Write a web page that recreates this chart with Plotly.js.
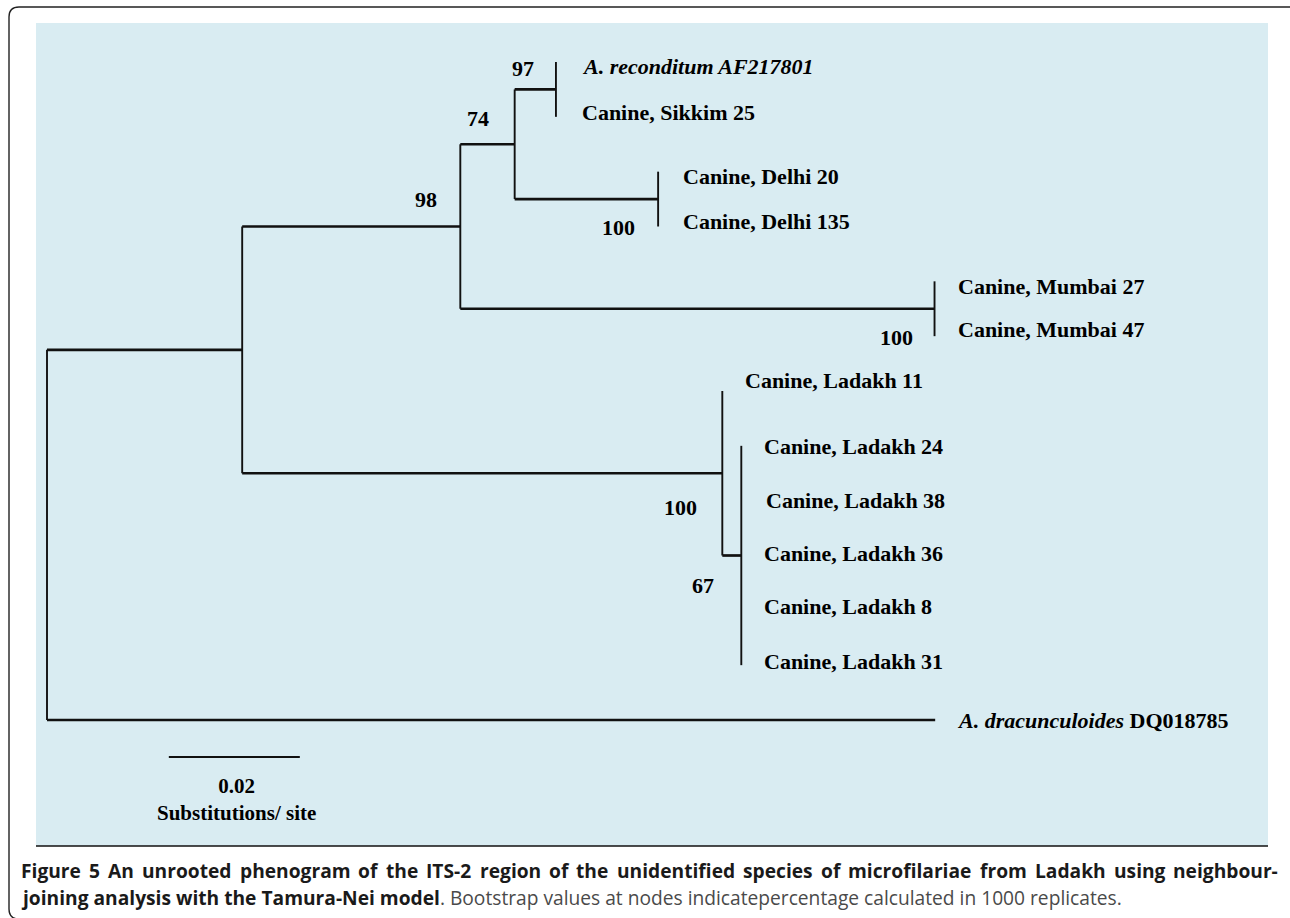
<!DOCTYPE html>
<html>
<head>
<meta charset="utf-8">
<script src="https://cdn.plot.ly/plotly-3.0.1.min.js"></script>
<style>
html,body{margin:0;padding:0;background:#ffffff;}
#chart{width:1290px;height:918px;}
</style>
</head>
<body>
<div id="chart"></div>
<script>
// ---------------- DATA ----------------
// Tree topology: node ids, parents and branch lengths (substitutions/site)
const nodeIds = ['root','N1','N98','N74','N97','Arec','Sik25','NDel','Del20','Del135',
                 'NMum','Mum27','Mum47','NLad','Lad11','N67','Lad24','Lad38','Lad36','Lad8','Lad31','Adra'];
const nodeParents = [null,'root','N1','N98','N74','N97','N97','N74','NDel','NDel',
                     'N98','NMum','NMum','N1','NLad','NLad','N67','N67','N67','N67','N67','root'];
const branchLengths = [0, 0.0298, 0.0333, 0.0083, 0.0063, 0, 0, 0.0219, 0, 0,
                       0.0724, 0, 0, 0.0733, 0, 0.0029, 0, 0, 0, 0, 0, 0.1356];
const bootstrapValues = [null, null, 98, 74, 97, null, null, 100, null, null,
                         100, null, null, 100, null, 67, null, null, null, null, null, null];
// Leaves in drawing order (top to bottom)
const leafIds = ['Arec','Sik25','Del20','Del135','Mum27','Mum47','Lad11','Lad24','Lad38','Lad36','Lad8','Lad31','Adra'];
const leafLabels = ['<i>A. reconditum AF217801</i>','Canine, Sikkim 25','Canine, Delhi 20','Canine, Delhi 135',
                    'Canine, Mumbai 27','Canine, Mumbai 47','Canine, Ladakh 11','Canine, Ladakh 24',
                    'Canine, Ladakh 38','Canine, Ladakh 36','Canine, Ladakh 8','Canine, Ladakh 31',
                    '<i>A. dracunculoides</i> DQ018785'];
const scaleBarLength = 0.02;
const scaleBarValueLabel = '0.02';
const scaleBarUnitLabel = 'Substitutions/ site';
const captionLine1 = 'Figure 5 An unrooted phenogram of the ITS-2 region of the unidentified species of microfilariae from Ladakh using neighbour-';
const captionLine2Bold = 'joining analysis with the Tamura-Nei model';
const captionLine2Rest = '. Bootstrap values at nodes indicatepercentage calculated in 1000 replicates.';

// ---------------- STYLE / LAYOUT CONSTANTS ----------------
const W = 1290, H = 918;
const PX_PER_UNIT = 6550;     // horizontal scale: pixels per substitution/site
const ROOT_PX = 47;           // pixel position of the root
const ROW0_PX = 62, ROW_PX = 54.833; // vertical leaf spacing
const SCALEBAR_START = 0.0186, SCALEBAR_ROW = 12.675;
const TREE_FONT = 'Liberation Serif, Times New Roman, serif';
const CAP_FONT = 'Open Sans, Noto Sans, sans-serif';
// per-leaf label offsets (px)  [dx, dy(up)]
const leafLabelShift = {Arec:[24,-4],Sik25:[24,4],Del20:[23,-5],Del135:[23,5],Mum27:[21,-5],Mum47:[21,7],
  Lad11:[21,11],Lad24:[21,-1],Lad38:[23,0],Lad36:[21,2],Lad8:[21,4],Lad31:[21,4],Adra:[20,0]};
// bootstrap label offsets (px) relative to node  [dx, dy(up)] with right anchor
const bootShift = {N98:[-21,27],N74:[-24,26],N97:[-20,21],NDel:[-21,-28],NMum:[-20,-29],NLad:[-23,-34],N67:[-25,-30]};

// ---------------- TREE LAYOUT ----------------
const n = nodeIds.length;
const idx = {}; nodeIds.forEach((id,i)=>idx[id]=i);
const children = nodeIds.map(()=>[]);
nodeParents.forEach((p,i)=>{ if(p!==null) children[idx[p]].push(i); });
const X = new Array(n), Y = new Array(n);
(function setX(i, base){ X[i] = base + branchLengths[i]; children[i].forEach(c=>setX(c, X[i])); })(0, 0);
leafIds.forEach((id,k)=>{ Y[idx[id]] = k; });
(function setY(i){
  if(children[i].length===0) return Y[i];
  const ys = children[i].map(setY);
  Y[i] = ys.reduce((a,b)=>a+b,0)/ys.length;
  return Y[i];
})(0);

const hx=[], hy=[], vx=[], vy=[];
for(let i=0;i<n;i++){
  const p = nodeParents[i];
  if(p!==null && branchLengths[i]>0){
    hx.push(X[idx[p]], X[i], null); hy.push(Y[i], Y[i], null);
  }
  if(children[i].length>0){
    const cy = children[i].map(c=>Y[c]);
    vx.push(X[i], X[i], null); vy.push(Math.min(...cy), Math.max(...cy), null);
  }
}

const traces = [
  {type:'scatter', mode:'lines', x:hx, y:hy, line:{color:'#111', width:2.7}, hoverinfo:'skip', showlegend:false},
  {type:'scatter', mode:'lines', x:vx, y:vy, line:{color:'#111', width:1.9}, hoverinfo:'skip', showlegend:false},
  {type:'scatter', mode:'lines', x:[SCALEBAR_START, SCALEBAR_START+scaleBarLength], y:[SCALEBAR_ROW, SCALEBAR_ROW],
   line:{color:'#111', width:1.9}, hoverinfo:'skip', showlegend:false}
];

const annotations = [];
leafIds.forEach((id,k)=>{
  const i = idx[id], s = leafLabelShift[id];
  annotations.push({x:X[i], y:Y[i], xref:'x', yref:'y', text:'<b>'+leafLabels[k]+'</b>', showarrow:false,
    xanchor:'left', yanchor:'middle', xshift:s[0], yshift:s[1], font:{family:TREE_FONT, size:22, color:'#000'}});
});
nodeIds.forEach((id,i)=>{
  if(bootstrapValues[i]===null) return;
  const s = bootShift[id];
  annotations.push({x:X[i], y:Y[i], xref:'x', yref:'y', text:'<b>'+bootstrapValues[i]+'</b>', showarrow:false,
    xanchor:'right', yanchor:'middle', xshift:s[0], yshift:s[1], font:{family:TREE_FONT, size:22, color:'#000'}});
});
const sbMid = SCALEBAR_START + scaleBarLength/2;
annotations.push({x:sbMid, y:SCALEBAR_ROW, xref:'x', yref:'y',
  text:'<b>'+scaleBarValueLabel+'</b><br><b>'+scaleBarUnitLabel+'</b>', showarrow:false, align:'center',
  xanchor:'center', yanchor:'middle', xshift:2, yshift:-42, borderpad:0,
  font:{family:TREE_FONT, size:21, color:'#000'}});

// caption (line 1 justified word by word)
const px = v => v / W, py = v => 1 - v / H;
let CAP_SIZE = 19.2;
const CAP_LEFT = 20, CAP_RIGHT = 1277, CAP_Y1 = 870, CAP_Y2 = 897;
const ctx = document.createElement('canvas').getContext('2d');
const words = captionLine1.split(' ');
let widths, gap;
for(let tries=0; tries<20; tries++){
  ctx.font = 'bold ' + CAP_SIZE + 'px "Open Sans"';
  widths = words.map(w=>ctx.measureText(w).width);
  gap = (CAP_RIGHT - CAP_LEFT - widths.reduce((a,b)=>a+b,0)) / (words.length-1);
  if(gap >= CAP_SIZE*0.22) break;
  CAP_SIZE -= 0.25;
}
let cx = CAP_LEFT;
words.forEach((w,k)=>{
  annotations.push({x:px(cx), y:py(CAP_Y1), xref:'paper', yref:'paper', text:'<b>'+w+'</b>', showarrow:false,
    xanchor:'left', yanchor:'middle', borderpad:0, font:{family:CAP_FONT, size:CAP_SIZE, color:'#1a1a1a'}});
  cx += widths[k] + gap;
});
annotations.push({x:px(CAP_LEFT), y:py(CAP_Y2), xref:'paper', yref:'paper',
  text:'<b>'+captionLine2Bold+'</b><span style="color:#4a4a4a">'+captionLine2Rest+'</span>', showarrow:false,
  xanchor:'left', yanchor:'middle', borderpad:0, font:{family:CAP_FONT, size:CAP_SIZE, color:'#1a1a1a'}});

// decorative frame and panel
const fl=9, ft=7, fr=1300, fb=919, r=10;
const framePath = `M ${px(fl)} ${py(ft+r)} Q ${px(fl)} ${py(ft)} ${px(fl+r)} ${py(ft)} L ${px(fr-r)} ${py(ft)} Q ${px(fr)} ${py(ft)} ${px(fr)} ${py(ft+r)} L ${px(fr)} ${py(fb-r)} Q ${px(fr)} ${py(fb)} ${px(fr-r)} ${py(fb)} L ${px(fl+r)} ${py(fb)} Q ${px(fl)} ${py(fb)} ${px(fl)} ${py(fb-r)} Z`;
const shapes = [
  {type:'rect', xref:'paper', yref:'paper', x0:px(36), x1:px(1268), y0:py(846), y1:py(23),
   fillcolor:'#d9ecf2', line:{width:0}, layer:'below'},
  {type:'line', xref:'paper', yref:'paper', x0:px(36), x1:px(1268), y0:py(846), y1:py(846),
   line:{color:'#111', width:1.5}, layer:'below'},
  {type:'path', xref:'paper', yref:'paper', path:framePath, line:{color:'#222', width:1.4}, fillcolor:'rgba(0,0,0,0)', layer:'below'}
];

const layout = {
  width:W, height:H, margin:{l:0,r:0,t:0,b:0}, paper_bgcolor:'#ffffff', plot_bgcolor:'rgba(0,0,0,0)',
  xaxis:{range:[-ROOT_PX/PX_PER_UNIT, (W-ROOT_PX)/PX_PER_UNIT], visible:false, fixedrange:true},
  yaxis:{range:[(H-ROW0_PX)/ROW_PX, -ROW0_PX/ROW_PX], visible:false, fixedrange:true},
  shapes:shapes, annotations:annotations, showlegend:false
};
Plotly.newPlot('chart', traces, layout, {displayModeBar:false, staticPlot:true});
</script>
</body>
</html>
